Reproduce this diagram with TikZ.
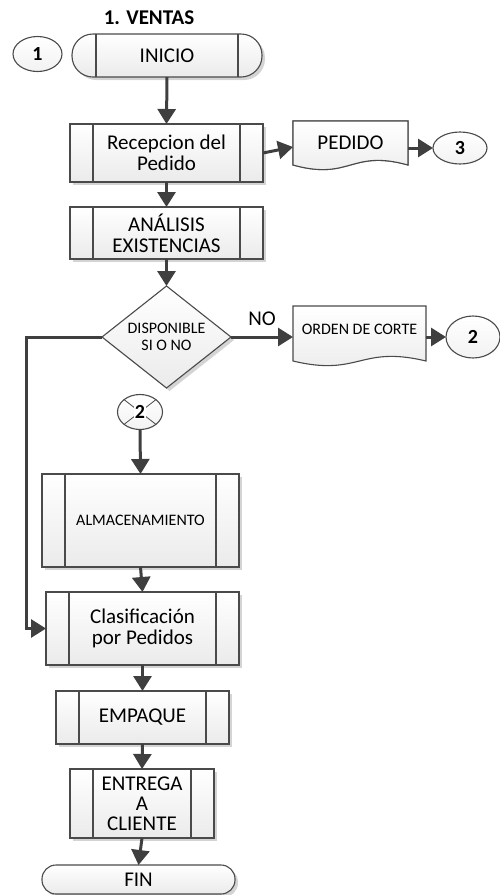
\documentclass[tikz,border=0pt]{standalone}
\usepackage{fontspec}
\setmainfont{Carlito}
\usetikzlibrary{shapes.geometric,arrows.meta,shadows,calc}

\definecolor{edge}{HTML}{4A4A4A}
\definecolor{arrowc}{HTML}{3F3F3F}
\definecolor{shade}{HTML}{D4D4D4}

\tikzset{
  every node/.style={inner sep=0pt, outer sep=0pt},
  fsz/.style={font=\fontsize{#1}{#1}\selectfont},
  boxfill/.style={top color=white, bottom color=black!8, draw=edge, line width=1.1pt},
  sh/.style={drop shadow={shadow xshift=3pt, shadow yshift=-3pt, fill=shade, opacity=1}},
  procbox/.style={rectangle, boxfill, sh, align=center,
    font=\fontsize{21}{21}\selectfont},
  termbox/.style={rectangle, rounded corners=14pt, boxfill, sh,
    font=\fontsize{21}{21}\selectfont},
  conn/.style={ellipse, draw=edge, line width=1.1pt, top color=white, bottom color=black!5,
    font=\bfseries\fontsize{20}{20}\selectfont},
  flow/.style={draw=arrowc, line width=3pt,
    -{Triangle[length=15pt,width=18pt]}},
  innerline/.style={draw=edge, line width=1.1pt},
  docline/.style={draw=edge, line width=1.1pt, top color=white, bottom color=black!8},
}

% wavy-bottom document outline around a node
\newcommand\wavydoc[2][]{%
  \path[docline,#1] (#2.north west) -- (#2.north east) -- (#2.south east)
    .. controls ($(#2.south)+(0,-16)$) and ($(#2.south)+(0,16)$) .. (#2.south west) -- cycle;}

\begin{document}
\begin{tikzpicture}[x=1pt,y=-1pt]
\useasboundingbox (0,0) rectangle (500,895);

% title
\node[font=\bfseries\fontsize{21}{21}\selectfont] (title) at (149,18) {1. VENTAS};

% start
\node[conn, minimum width=49, minimum height=35] (c1) at (37.5,54) {1};
\node[termbox, minimum width=190, minimum height=43, rounded corners=21pt] (inicio) at (167,55.5) {INICIO};

% order reception
\node[procbox, minimum width=193, minimum height=58] (rec) at (166.5,153) {Recepcion del\\Pedido};

% order document (stacked)
\node[minimum width=115, minimum height=44] (pedido) at (350.5,143) {};
\begin{scope}[shift={(0,6)}]
  \wavydoc[draw=edge!80, top color=white, bottom color=white]{pedido}
\end{scope}
\wavydoc{pedido}
\node[fsz=21] (pedtxt) at (pedido) {PEDIDO};
\node[conn, minimum width=54, minimum height=32] (c3) at (460,148) {3};

% stock analysis
\node[procbox, minimum width=193, minimum height=52] (ana) at (166.5,233) {ANÁLISIS\\EXISTENCIAS};

% decision
\node[diamond, boxfill, sh, minimum width=129, minimum height=102, shape aspect=1.26,
  align=center, font=\fontsize{16}{17}\selectfont] (dec) at (166.5,337) {DISPONIBLE\\SI O NO};
\node[fsz=21] (nolbl) at (262,319) {NO};

% cut order
\node[minimum width=133, minimum height=55] (orden) at (359.5,333.5) {};
\wavydoc{orden}
\node[fsz=16] (ordtxt) at (359.5,329) {ORDEN DE CORTE};
\node[conn, minimum width=54, minimum height=42] (c2) at (473,337) {2};

% incoming connector
\node[conn, minimum width=45, minimum height=35] (xc) at (140,412) {};
\draw[innerline, line width=0.8pt] (xc.north east) -- (xc.south west) (xc.north west) -- (xc.south east);
\node[font=\bfseries\fontsize{20}{20}\selectfont, fill=white, inner sep=0.5pt] (xctxt) at (140,412) {2};

% remaining processes
\node[procbox, minimum width=197, minimum height=93, font=\fontsize{16}{16}\selectfont] (alm) at (140.5,520.5) {ALMACENAMIENTO};
\node[procbox, minimum width=193, minimum height=73] (cla) at (142.5,628.5) {Clasificación\\por Pedidos};
\node[procbox, minimum width=173, minimum height=53] (emp) at (142.5,717.5) {EMPAQUE};
\node[procbox, minimum width=144, minimum height=69, font=\fontsize{21}{20}\selectfont] (ent) at (142,803.5) {ENTREGA\\A\\CLIENTE};
\node[termbox, minimum width=193, minimum height=29] (fin) at (138.5,879.5) {FIN};

% side bars of process boxes
\foreach \n in {rec,ana,alm,cla,emp,ent}{
  \draw[innerline] ([xshift=23pt]\n.north west) -- ([xshift=23pt]\n.south west)
                   ([xshift=-23pt]\n.north east) -- ([xshift=-23pt]\n.south east);
}
\draw[innerline] ([xshift=24pt]inicio.north west) -- ([xshift=24pt]inicio.south west)
                 ([xshift=-24pt]inicio.north east) -- ([xshift=-24pt]inicio.south east);

% flow
\coordinate (lft) at (26,337);
\draw[flow] (inicio.south) -- (rec.north);
\draw[flow] (rec.east) -- ([yshift=-4pt]pedido.west);
\draw[flow] (c3.west -| pedido.east) -- (c3.west);
\draw[flow] (rec.south) -- (ana.north);
\draw[flow] (ana.south) -- (dec.north);
\draw[flow] (dec.east) -- (dec.east -| orden.west);
\draw[flow] (c2.west -| orden.east) -- (c2.west);
\draw[flow] (dec.west) -- (lft) |- (cla.west);
\draw[flow] (xc.south) -- (alm.north);
\draw[flow] (alm.south) -- (cla.north);
\draw[flow] (cla.south) -- (emp.north);
\draw[flow] (emp.south) -- (ent.north);
\draw[flow] (ent.south) -- (fin.north);
\end{tikzpicture}
\end{document}
